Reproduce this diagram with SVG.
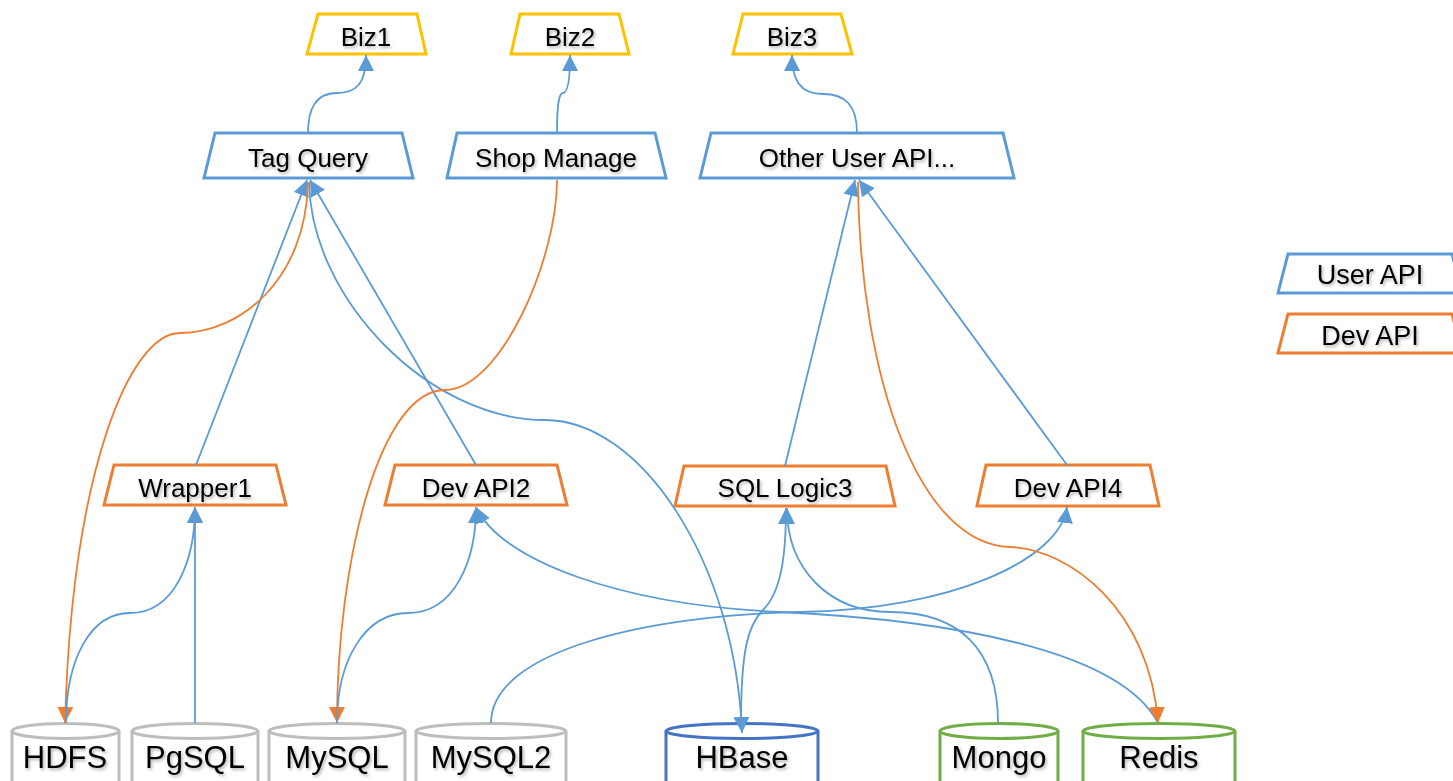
<svg xmlns="http://www.w3.org/2000/svg" width="1453" height="781" viewBox="0 0 1453 781">
<defs>
<style>
.t{font-family:"Liberation Sans",Arial,sans-serif;fill:#000;text-anchor:middle;filter:url(#sh)}
.n{font-size:26px}
.c{font-size:31px}
.lg{font-size:27px}
.biz{fill:#fff;stroke:#FFC000;stroke-width:3}
.ua{fill:#fff;stroke:#5B9BD5;stroke-width:3}
.da{fill:#fff;stroke:#ED7D31;stroke-width:3}
.cg{fill:#fff;stroke:#BDBDBD;stroke-width:3}
.cb{fill:#fff;stroke:#4472C4;stroke-width:3}
.cn{fill:#fff;stroke:#70AD47;stroke-width:3}
.b{fill:none;stroke:#5B9BD5;stroke-width:1.8}
.o{fill:none;stroke:#ED7D31;stroke-width:1.8}
.ab{marker-end:url(#mb)}
.ao{marker-end:url(#mo)}
</style>
<filter id="sh" x="-10%" y="-20%" width="130%" height="160%">
<feDropShadow dx="1.5" dy="2" stdDeviation="1.5" flood-color="#000" flood-opacity="0.3"/>
</filter>
<marker id="mb" viewBox="0 0 10 10" refX="10" refY="5" markerWidth="16" markerHeight="16" markerUnits="userSpaceOnUse" orient="auto">
<path d="M0,0 L10,5 L0,10 z" fill="#5B9BD5"/>
</marker>
<marker id="mo" viewBox="0 0 10 10" refX="10" refY="5" markerWidth="16" markerHeight="16" markerUnits="userSpaceOnUse" orient="auto">
<path d="M0,0 L10,5 L0,10 z" fill="#ED7D31"/>
</marker>
</defs>
<rect width="1453" height="781" fill="#fff"/>

<g id="biz1"><polygon class="biz" points="318,14 417,14 426,54 307,54"/><text class="t n" x="366" y="46">Biz1</text></g>
<g id="biz2"><polygon class="biz" points="520,14 619,14 629,54 511,54"/><text class="t n" x="570" y="46">Biz2</text></g>
<g id="biz3"><polygon class="biz" points="743,14 841,14 852,54 733,54"/><text class="t n" x="792" y="46">Biz3</text></g>

<g id="tagquery"><polygon class="ua" points="215,133 402,133 413,178 204,178"/><text class="t n" x="308" y="167">Tag Query</text></g>
<g id="shopmanage"><polygon class="ua" points="457,133 655,133 666,178 447,178"/><text class="t n" x="556" y="167">Shop Manage</text></g>
<g id="otheruserapi"><polygon class="ua" points="711,133 1003,133 1014,178 700,178"/><text class="t n" x="857" y="167">Other User API...</text></g>

<g id="wrapper1"><polygon class="da" points="114,465 276,465 286,505 104,505"/><text class="t n" x="195" y="497">Wrapper1</text></g>
<g id="devapi2"><polygon class="da" points="395,465 557,465 567,505 385,505"/><text class="t n" x="476" y="497">Dev API2</text></g>
<g id="sqllogic3"><polygon class="da" points="684,466 886,466 895,506 675,506"/><text class="t n" x="785" y="497">SQL Logic3</text></g>
<g id="devapi4"><polygon class="da" points="986,465 1150,465 1159,506 977,506"/><text class="t n" x="1068" y="497">Dev API4</text></g>

<g id="legend-user"><polygon class="ua" points="1288,254 1452,254 1462,293 1278,293"/><text class="t lg" x="1370" y="284">User API</text></g>
<g id="legend-dev"><polygon class="da" points="1288,314 1452,314 1462,353 1278,353"/><text class="t lg" x="1370" y="345">Dev API</text></g>

<g id="hdfs"><path class="cg" d="M12,731 L12,800 L119,800 L119,731"/><ellipse class="cg" cx="65.5" cy="731" rx="53.5" ry="7.5"/><text class="t c" x="65" y="768">HDFS</text></g>
<g id="pgsql"><path class="cg" d="M132,731 L132,800 L258,800 L258,731"/><ellipse class="cg" cx="195" cy="731" rx="63" ry="7.5"/><text class="t c" x="195" y="768">PgSQL</text></g>
<g id="mysql"><path class="cg" d="M269,731 L269,800 L405,800 L405,731"/><ellipse class="cg" cx="337" cy="731" rx="68" ry="7.5"/><text class="t c" x="337" y="768">MySQL</text></g>
<g id="mysql2"><path class="cg" d="M416,731 L416,800 L566,800 L566,731"/><ellipse class="cg" cx="491" cy="731" rx="75" ry="7.5"/><text class="t c" x="491" y="768">MySQL2</text></g>
<g id="hbase"><path class="cb" d="M666,731 L666,800 L818,800 L818,731"/><ellipse class="cb" cx="742" cy="731" rx="76" ry="7.5"/><text class="t c" x="742" y="768">HBase</text></g>
<g id="mongo"><path class="cn" d="M940,731 L940,800 L1058,800 L1058,731"/><ellipse class="cn" cx="999" cy="731" rx="59" ry="7.5"/><text class="t c" x="999" y="768">Mongo</text></g>
<g id="redis"><path class="cn" d="M1083,731 L1083,800 L1235,800 L1235,731"/><ellipse class="cn" cx="1159" cy="731" rx="76" ry="7.5"/><text class="t c" x="1159" y="768">Redis</text></g>

<g id="connectors">
<path class="b ab" d="M308,133 C308,110 315,93 337,93 C355,93 366,85 366,55"/>
<path class="b ab" d="M557,133 C557,105 559,93 563,93 C568,93 570,80 570,55"/>
<path class="b ab" d="M857,133 C857,105 845,94 823,94 C800,94 792,80 792,55"/>
<path class="b ab" d="M196,465 L307,180"/>
<path class="b ab" d="M476,465 L310,180"/>
<path class="b ab" d="M309,182 C311,300 430,420 545,420 C640,420 735,560 742,733"/>
<path class="o ao" d="M308,182 C306,280 240,333 180,333 C130,333 72,470 65,723"/>
<path class="b ab" d="M66,723 C66,660 90,613 130,613 C175,613 195,560 195,507"/>
<path class="b ab" d="M195,723 L195,507"/>
<path class="o ao" d="M557,180 C557,260 500,390 445,390 C380,390 337,560 337,723"/>
<path class="b ab" d="M337,723 C337,660 365,613 408,613 C455,613 476,560 476,507"/>
<path class="b ab" d="M1158,723 C1120,650 950,620 780,612 C620,605 500,560 476,507"/>
<path class="b ab" d="M491,723 C491,650 650,615 800,612 C950,610 1060,560 1067,507"/>
<path class="b ab" d="M741,723 C741,650 748,625 763,610 C780,593 786,560 786,508"/>
<path class="b ab" d="M998,723 C998,650 960,612 890,612 C830,612 787,570 787,508"/>
<path class="b ab" d="M785,466 L855,180"/>
<path class="b ab" d="M1067,465 L859,180"/>
<path class="o ao" d="M858,182 C860,380 920,545 1010,547 C1070,549 1150,610 1158,723"/>
</g>
</svg>
